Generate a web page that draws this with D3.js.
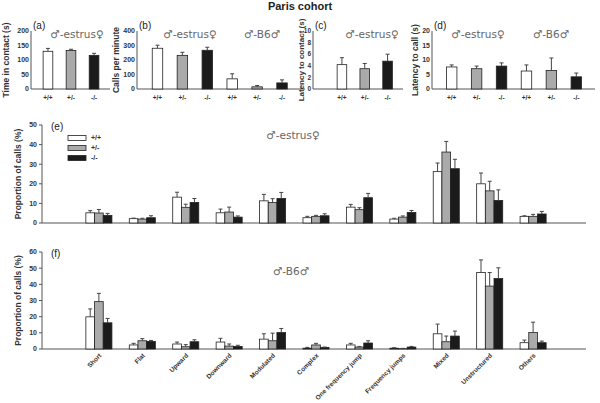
<!DOCTYPE html>
<html><head><meta charset="utf-8">
<script src="https://cdn.jsdelivr.net/npm/d3@7"></script>
<style>body{margin:0;background:#fff}svg{font-family:Arial,"Liberation Sans",sans-serif}</style>
</head><body>
<svg id="c" width="600" height="403"></svg>
<script>
// ---------- DATA ----------
const genotypes = ["+/+", "+/-", "-/-"];
const title = "Paris cohort";
// (a) time in contact, estrus female
const aMean = [130, 133, 116];
const aErr  = [140, 137, 123];
// (b) calls per minute: estrus female then B6 male
const bMean = [281, 232, 267, 70, 15, 42];
const bErr  = [302, 253, 288, 105, 24, 63];
// (c) latency to contact, estrus female
const cMean = [4.2, 3.5, 4.8];
const cErr  = [5.4, 4.4, 6.0];
// (d) latency to call: estrus female then B6 male
const dMean = [7.6, 7.0, 7.9, 6.2, 6.4, 4.2];
const dErr  = [8.3, 7.9, 9.0, 8.3, 10.7, 5.5];
// (e)/(f) call categories
const categories = ["Short","Flat","Upward","Downward","Modulated","Complex","One frequency jump","Frequency jumps","Mixed","Unstructured","Others"];
const eWT   = [5.2, 2.2, 13.2, 5.2, 11.3, 2.7, 8.1, 2.0, 26.2, 20.0, 3.4];
const eWTe  = [6.3, 2.5, 15.7, 7.1, 14.6, 3.4, 9.5, 2.4, 30.6, 25.5, 3.7];
const eHet  = [5.1, 2.0, 8.0, 5.6, 10.5, 3.4, 6.8, 3.0, 36.2, 16.4, 3.4];
const eHete = [6.9, 2.4, 9.6, 8.1, 12.4, 3.9, 7.8, 3.6, 41.6, 21.3, 4.4];
const eKO   = [3.9, 2.7, 10.5, 3.0, 12.5, 3.7, 12.9, 5.4, 27.7, 11.5, 4.6];
const eKOe  = [4.9, 3.7, 12.5, 3.6, 15.6, 4.7, 15.1, 6.4, 32.5, 16.9, 5.9];
const fWT   = [19.9, 2.5, 3.1, 4.3, 6.1, 0.5, 2.5, 0.5, 9.4, 47.3, 3.9];
const fWTe  = [24.8, 3.5, 4.3, 6.6, 9.4, 1.0, 3.5, 0.8, 15.4, 55.1, 5.5];
const fHet  = [29.3, 5.1, 1.4, 1.8, 5.1, 2.5, 1.2, 0.2, 4.5, 38.9, 10.2];
const fHete = [34.4, 6.4, 2.7, 3.1, 9.8, 3.5, 1.6, 0.4, 8.0, 47.3, 16.6];
const fKO   = [16.2, 4.7, 4.5, 1.6, 10.2, 1.0, 3.7, 1.2, 8.0, 43.6, 3.9];
const fKOe  = [18.9, 5.3, 5.7, 2.3, 12.7, 1.2, 5.1, 1.6, 11.1, 50.2, 4.9];
const aTicks = [0, 50, 100, 150, 200];
const bTicks = [0, 100, 200, 300, 400];
const cTicks = [0, 2, 4, 6, 8, 10];
const dTicks = [0, 5, 10, 15, 20];
const eTicks = [0, 10, 20, 30, 40, 50];
const fTicks = [0, 10, 20, 30, 40, 50, 60];

// ---------- DRAW ----------
const svg = d3.select("#c");
const fills = ["#ffffff", "#aaaaaa", "#1b1b1b"];
const axisCol = "#555";
const textCol = "#333";
const condFont = "'DejaVu Sans', sans-serif";

svg.append("text").attr("x", 300).attr("y", 10).attr("text-anchor", "middle")
  .attr("font-size", 11).attr("font-weight", "bold").attr("fill", "#222").text(title);

function yAxis(g, y, ticks, x0, x1, tickLeft, fs) {
  g.append("line").attr("x1", x0).attr("x2", x0).attr("y1", y(ticks[ticks.length-1])).attr("y2", y(0))
    .attr("stroke", axisCol).attr("stroke-width", 1);
  g.append("line").attr("x1", x0).attr("x2", x1).attr("y1", y(0)).attr("y2", y(0))
    .attr("stroke", axisCol).attr("stroke-width", 1);
  ticks.forEach(t => {
    if (tickLeft) g.append("line").attr("x1", x0 - 3).attr("x2", x0).attr("y1", y(t)).attr("y2", y(t)).attr("stroke", axisCol);
    g.append("text").attr("x", x0 - (tickLeft ? 5 : 2)).attr("y", y(t)).attr("dy", "0.35em")
      .attr("text-anchor", "end").attr("font-size", fs || 7).attr("font-weight", "bold").attr("fill", textCol).text(t);
  });
}
function yLabel(x, yc, txt, fs) {
  svg.append("text").attr("transform", `translate(${x},${yc}) rotate(-90)`).attr("text-anchor", "middle")
    .attr("font-size", fs || 8.5).attr("font-weight", "bold").attr("fill", textCol).text(txt);
}
function bar(g, x, w, y, v, e) {
  g.append("rect").attr("x", x).attr("width", w).attr("y", y(v)).attr("height", y(0) - y(v))
    .attr("fill", null).attr("stroke", "#222").attr("stroke-width", 0.8);
  g.append("line").attr("x1", x + w/2).attr("x2", x + w/2).attr("y1", y(v)).attr("y2", y(e))
    .attr("stroke", "#444").attr("stroke-width", 1);
  g.append("line").attr("x1", x + w/2 - 2).attr("x2", x + w/2 + 2).attr("y1", y(e)).attr("y2", y(e))
    .attr("stroke", "#444").attr("stroke-width", 1);
}
function topPanel(opt) {
  const g = svg.append("g");
  const y = d3.scaleLinear().domain([0, opt.ticks[opt.ticks.length-1]]).range([89, 31]);
  const labels = opt.mean.map((d, i) => i);
  const x = d3.scaleBand().domain(labels).range(opt.range).padding(0.58);
  yAxis(g, y, opt.ticks, opt.axisX, opt.endX, false, opt.tickFs);
  opt.mean.forEach((v, i) => {
    const r = g.append("g");
    bar(r, x(i), x.bandwidth(), y, v, opt.err[i]);
    r.select("rect").attr("fill", fills[i % 3]);
    g.append("text").attr("x", x(i) + x.bandwidth()/2).attr("y", 100).attr("text-anchor", "middle")
      .attr("font-size", 6.5).attr("font-weight", "bold").attr("fill", textCol).text(genotypes[i % 3]);
  });
  svg.append("text").attr("x", opt.axisX + 2).attr("y", 29).attr("font-size", 10).attr("fill", "#222").text(opt.letter);
  opt.conds.forEach(c => {
    svg.append("text").attr("x", c[0]).attr("y", 38).attr("text-anchor", "middle").attr("font-size", 10.5)
      .attr("font-family", condFont).attr("fill", "#666").text(c[1]);
  });
  yLabel(opt.labX, 60, opt.label, opt.labFs);
}
topPanel({mean: aMean, err: aErr, ticks: aTicks, axisX: 31, endX: 110, range: [29.75, 112.25], letter: "(a)",
  conds: [[77, "♂-estrus♀"]], labX: 9, label: "Time in contact (s)"});
topPanel({mean: bMean, err: bErr, ticks: bTicks, axisX: 137, endX: 305, range: [137.8, 301.7], letter: "(b)",
  conds: [[190, "♂-estrus♀"], [262, "♂-B6♂"]], labX: 119, label: "Calls per minute"});
topPanel({mean: cMean, err: cErr, ticks: cTicks, axisX: 313, endX: 403, range: [323.9, 405.6], letter: "(c)",
  conds: [[372, "♂-estrus♀"]], labX: 304, label: "Latency to contact (s)", labFs: 8, tickFs: 6.5});
topPanel({mean: dMean, err: dErr, ticks: dTicks, axisX: 432, endX: 595, range: [432, 596], letter: "(d)",
  conds: [[478, "♂-estrus♀"], [551, "♂-B6♂"]], labX: 418, label: "Latency to call (s)"});

function bottomPanel(opt) {
  const g = svg.append("g");
  const y = d3.scaleLinear().domain([0, opt.ticks[opt.ticks.length-1]]).range(opt.yRange);
  const x = d3.scaleBand().domain(categories).range([68.5, 563.5]).padding(0.4);
  const xs = d3.scaleBand().domain(genotypes).range([0, x.bandwidth()]);
  yAxis(g, y, opt.ticks, 42, 586, true);
  categories.forEach((c, i) => {
    opt.series.forEach((s, k) => {
      const r = g.append("g");
      bar(r, x(c) + xs(genotypes[k]), xs.bandwidth(), y, s[0][i], s[1][i]);
      r.select("rect").attr("fill", fills[k]);
    });
  });
  svg.append("text").attr("x", 51).attr("y", opt.yRange[1] + 5).attr("font-size", 10).attr("fill", "#222").text(opt.letter);
  svg.append("text").attr("x", opt.condX).attr("y", opt.condY).attr("text-anchor", "middle").attr("font-size", 10.5)
    .attr("font-family", condFont).attr("fill", "#666").text(opt.cond);
  yLabel(21, (opt.yRange[0] + opt.yRange[1]) / 2, "Proportion of calls (%)");
  return x;
}
bottomPanel({ticks: eTicks, yRange: [223, 125], letter: "(e)", cond: "♂-estrus♀", condX: 293, condY: 139,
  series: [[eWT, eWTe], [eHet, eHete], [eKO, eKOe]]});
const xf = bottomPanel({ticks: fTicks, yRange: [349, 252], letter: "(f)", cond: "♂-B6♂", condX: 291, condY: 275,
  series: [[fWT, fWTe], [fHet, fHete], [fKO, fKOe]]});

categories.forEach(c => {
  svg.append("text").attr("transform", `translate(${xf(c) + xf.bandwidth()/2 + 3},${356}) rotate(-45)`)
    .attr("text-anchor", "end").attr("font-size", 6.5).attr("font-weight", "bold").attr("fill", textCol).text(c);
});

// legend for (e)
genotypes.forEach((gname, k) => {
  svg.append("rect").attr("x", 68).attr("y", 135.5 + k * 10).attr("width", 18).attr("height", 5)
    .attr("fill", fills[k]).attr("stroke", "#222").attr("stroke-width", 0.8);
  svg.append("text").attr("x", 91).attr("y", 138 + k * 10).attr("dy", "0.35em").attr("font-size", 7)
    .attr("font-weight", "bold").attr("fill", textCol).text(gname);
});
</script>
</body></html>
